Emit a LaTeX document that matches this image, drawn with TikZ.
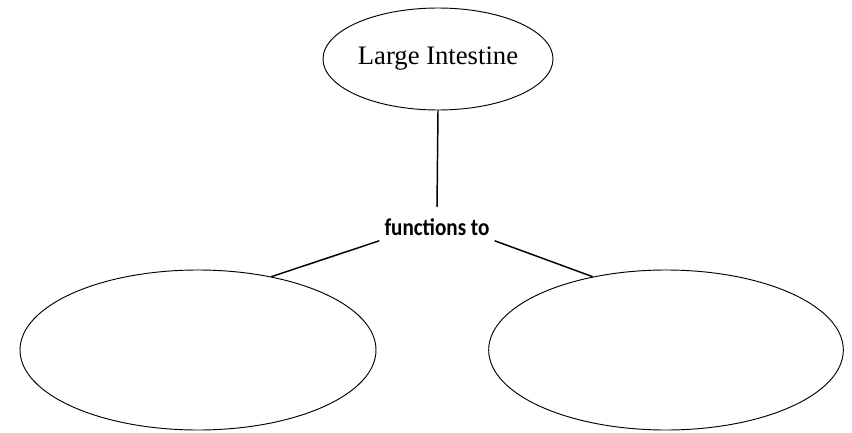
\documentclass[tikz,border=0pt]{standalone}
\usepackage{fontspec}
\setmainfont{Liberation Serif}
\newfontfamily\labelfont{Carlito}
\usetikzlibrary{shapes.geometric}
\begin{document}
\begin{tikzpicture}[x=0.75pt, y=-0.75pt,
	bubble/.style={draw, ellipse, line width=0.7pt, inner sep=0pt},
	link/.style={line width=1.1pt},
	linkword/.style={font=\labelfont\bfseries\fontsize{18}{20}\selectfont, inner sep=3.75pt}]
	\useasboundingbox (0,0) rectangle (852,432);
	%concepts
	\node[bubble, minimum width=172.5pt, minimum height=76.5pt,
		font=\fontsize{20}{23}\selectfont] (intestine) at (438,59) {Large Intestine};
	\node[bubble, minimum width=267pt, minimum height=120pt] (left) at (198,350) {};
	\node[bubble, minimum width=266pt, minimum height=120pt] (right) at (666,350) {};
	%linking words
	\node[linkword] (functions) at (437,227) {\scalebox{0.88}[1]{functions to}};
	%connectors
	\draw[link] (intestine.south) -- ([yshift=4.5pt]functions.north);
	\draw[link] (functions.south west) -- (left.45);
	\draw[link] (functions.south east) -- (right.135);
\end{tikzpicture}
\end{document}
